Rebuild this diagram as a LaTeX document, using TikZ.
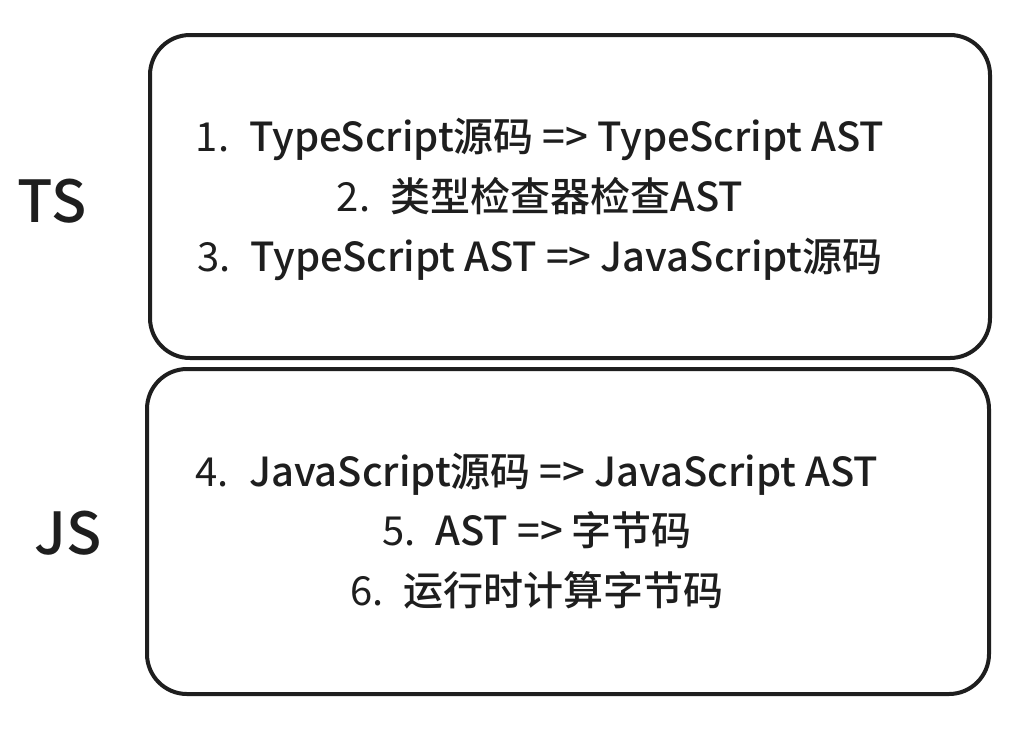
\documentclass[tikz,border=0pt]{standalone}
\usepackage{fontspec}
\setmainfont{Noto Sans CJK SC}[BoldFont={Noto Sans CJK SC Medium}]
\definecolor{ink}{HTML}{1E1E1E}
\begin{document}
\begin{tikzpicture}[x=1pt,y=-1pt,
  panel/.style={draw=ink,line width=4pt,rounded corners=40pt},
  stepline/.style={anchor=base,text=ink,font=\fontsize{40}{48}\selectfont,inner sep=0pt},
  side/.style={text=ink,font=\fontsize{58}{64}\selectfont\bfseries,inner sep=0pt}]
\useasboundingbox (0,0) rectangle (1024,729);
\fill[white] (0,0) rectangle (1024,729);
\draw[panel] (150,35) rectangle (990,358);
\draw[panel] (147,369) rectangle (989,694);
\node[side] (ts) at (52,201) {TS};
\node[side] (js) at (68,533) {JS};
\node[stepline] (s1) at (540,151) {1.\hspace{0.5em}\textbf{TypeScript源码 => TypeScript AST}};
\node[stepline] (s2) at (540,211) {2.\hspace{0.5em}\textbf{类型检查器检查AST}};
\node[stepline] (s3) at (540,271) {3.\hspace{0.5em}\textbf{TypeScript AST => JavaScript源码}};
\node[stepline] (s4) at (537,486) {4.\hspace{0.5em}\textbf{JavaScript源码 => JavaScript AST}};
\node[stepline] (s5) at (537,545) {5.\hspace{0.5em}\textbf{AST => 字节码}};
\node[stepline] (s6) at (537,605) {6.\hspace{0.5em}\textbf{运行时计算字节码}};
\end{tikzpicture}
\end{document}
